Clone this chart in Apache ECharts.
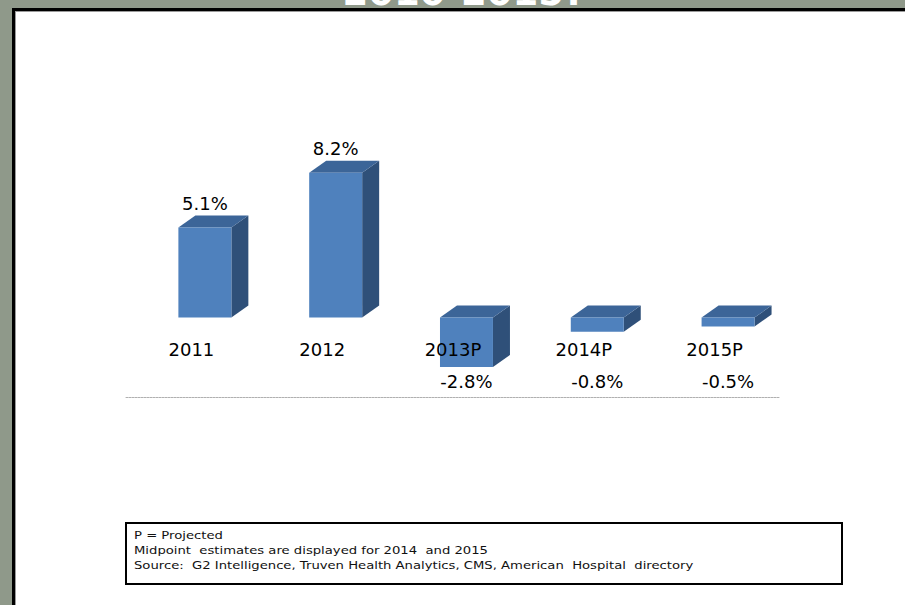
<!DOCTYPE html>
<html>
<head>
<meta charset="utf-8">
<script src="https://cdn.jsdelivr.net/npm/echarts@6/dist/echarts.min.js"></script>
<style>
  html, body { margin: 0; padding: 0; width: 905px; height: 605px; overflow: hidden; background: #8f998a; }
  #panel { position: absolute; left: 12px; top: 8px; width: 920px; height: 620px; background: #fff;
           border-left: 3px solid #000; border-top: 3px solid #000; box-shadow: inset 1px 1px 0 #9a9a9a; }
  #chart { position: absolute; left: 0; top: 0; width: 905px; height: 605px; }
</style>
</head>
<body>
<div id="panel"></div>
<div id="chart"></div>
<script>
const titleText = '2010-2015?';
const categories = ['2011', '2012', '2013P', '2014P', '2015P'];
const growth = [5.1, 8.2, -2.8, -0.8, -0.5];
const footnotes = [
  'P = Projected',
  'Midpoint  estimates are displayed for 2014  and 2015',
  'Source:  G2 Intelligence, Truven Health Analytics, CMS, American  Hospital  directory'
];

const FONT = '"DejaVu Sans", Verdana, sans-serif';
const chart = echarts.init(document.getElementById('chart'), null, { renderer: 'svg' });

const seriesData = growth.map((v, i) => [i, v]);

function renderBar(params, api) {
  const i = api.value(0);
  const v = api.value(1);
  const band = api.size([1, 0])[0];
  const w = band * 0.405;
  const base = api.coord([i, 0]);
  const end = api.coord([i, v]);
  const cx = base[0] + band * 0.103;
  const x0 = cx - w / 2, x1 = cx + w / 2;
  const top = Math.min(base[1], end[1]);
  const bot = Math.max(base[1], end[1]);
  const dx = 17, dy = 12;
  const label = v.toFixed(1) + '%';
  const labelY = v >= 0 ? top - dy - 12 : base[1] + 64;
  return {
    type: 'group',
    children: [
      { type: 'polygon', shape: { points: [[x1, top], [x1 + dx, top - dy], [x1 + dx, bot - dy], [x1, bot]] },
        style: { fill: '#2f5079' } },
      { type: 'polygon', shape: { points: [[x0, top], [x1, top], [x1 + dx, top - dy], [x0 + dx, top - dy]] },
        style: { fill: '#3c6598' } },
      { type: 'rect', shape: { x: x0, y: top, width: w, height: bot - top },
        style: { fill: '#4f81bd' } },
      { type: 'text', style: { text: label, x: cx, y: labelY, align: 'center', verticalAlign: 'middle',
        fill: '#000', font: '18px ' + FONT } }
    ]
  };
}

chart.setOption({
  animation: false,
  backgroundColor: 'transparent',
  title: {
    text: titleText, left: 459, top: -31, textAlign: 'center',
    textStyle: { color: '#ffffff', fontSize: 37, fontWeight: 'bold', fontFamily: FONT, lineHeight: 37 }
  },
  grid: { left: 126, width: 654, top: 141, bottom: 208 },
  xAxis: {
    type: 'category', data: categories, position: 'bottom', z: 10,
    axisLine: { show: true, onZero: false, lineStyle: { color: '#b0b0b0', width: 1, type: [2, 1] } },
    axisTick: { show: false },
    axisLabel: { margin: -57, color: '#000', fontSize: 18, fontFamily: FONT }
  },
  yAxis: { type: 'value', min: -4.5, max: 10, show: false },
  series: [{ type: 'custom', renderItem: renderBar, data: seriesData, z: 2 }],
  graphic: [
    { type: 'rect', left: 125, top: 522, z: 5,
      shape: { width: 716, height: 61 }, style: { fill: '#fff', stroke: '#000', lineWidth: 2 } },
    { type: 'text', x: 134, y: 528, scaleX: 1.2, z: 6,
      style: { text: footnotes.join('\n'), fill: '#111', font: '11px ' + FONT, lineHeight: 15 } }
  ]
});
</script>
</body>
</html>
